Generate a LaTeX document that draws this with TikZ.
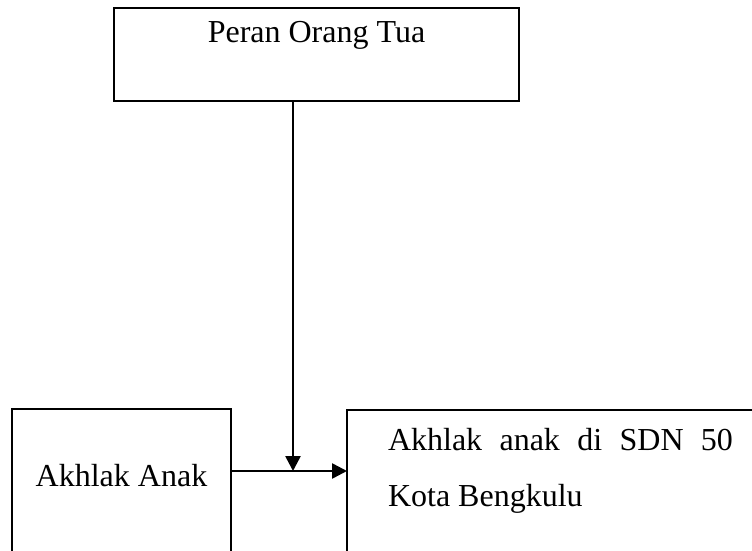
\documentclass[tikz,border=0pt]{standalone}
\usepackage{fontspec}
\setmainfont{Liberation Serif}
\usetikzlibrary{arrows.meta}
\begin{document}
\begin{tikzpicture}[x=1pt,y=-1pt,
  boxstyle/.style={draw=black,line width=2pt,inner sep=0pt,outer sep=0pt,rectangle},
  labelstyle/.style={inner sep=0pt,outer sep=0pt,font=\fontsize{32}{56}\selectfont},
  conn/.style={line width=2.6pt,-{Triangle[length=15pt,width=15pt]}}]
\useasboundingbox (0,0) rectangle (752,551);
\clip (0,0) rectangle (752,551);
% boxes
\node[boxstyle,minimum width=405pt,minimum height=93pt] (top) at (316.5,54.5) {};
\node[boxstyle,minimum width=219pt,minimum height=240pt] (lb) at (121.5,529) {};
\node[boxstyle,minimum width=460pt,minimum height=240pt] (rb) at (577,530) {};
% texts
\node[labelstyle,anchor=base] (toptxt) at (316.5,43) {Peran Orang Tua};
\node[labelstyle,anchor=base] (lbtxt) at (121.5,486) {Akhlak Anak};
\node[labelstyle,anchor=base west] (rbtxt1) at (388,450) {\makebox[345pt][s]{Akhlak\hfill anak\hfill di\hfill SDN\hfill 50}};
\node[labelstyle,anchor=base west] (rbtxt2) at (388,506) {Kota Bengkulu};
% connectors
\coordinate (j) at (293,471);
\draw[conn] (top.south -| j) -- (j);
\draw[conn] (lb.east |- j) -- (rb.west |- j);
\end{tikzpicture}
\end{document}
